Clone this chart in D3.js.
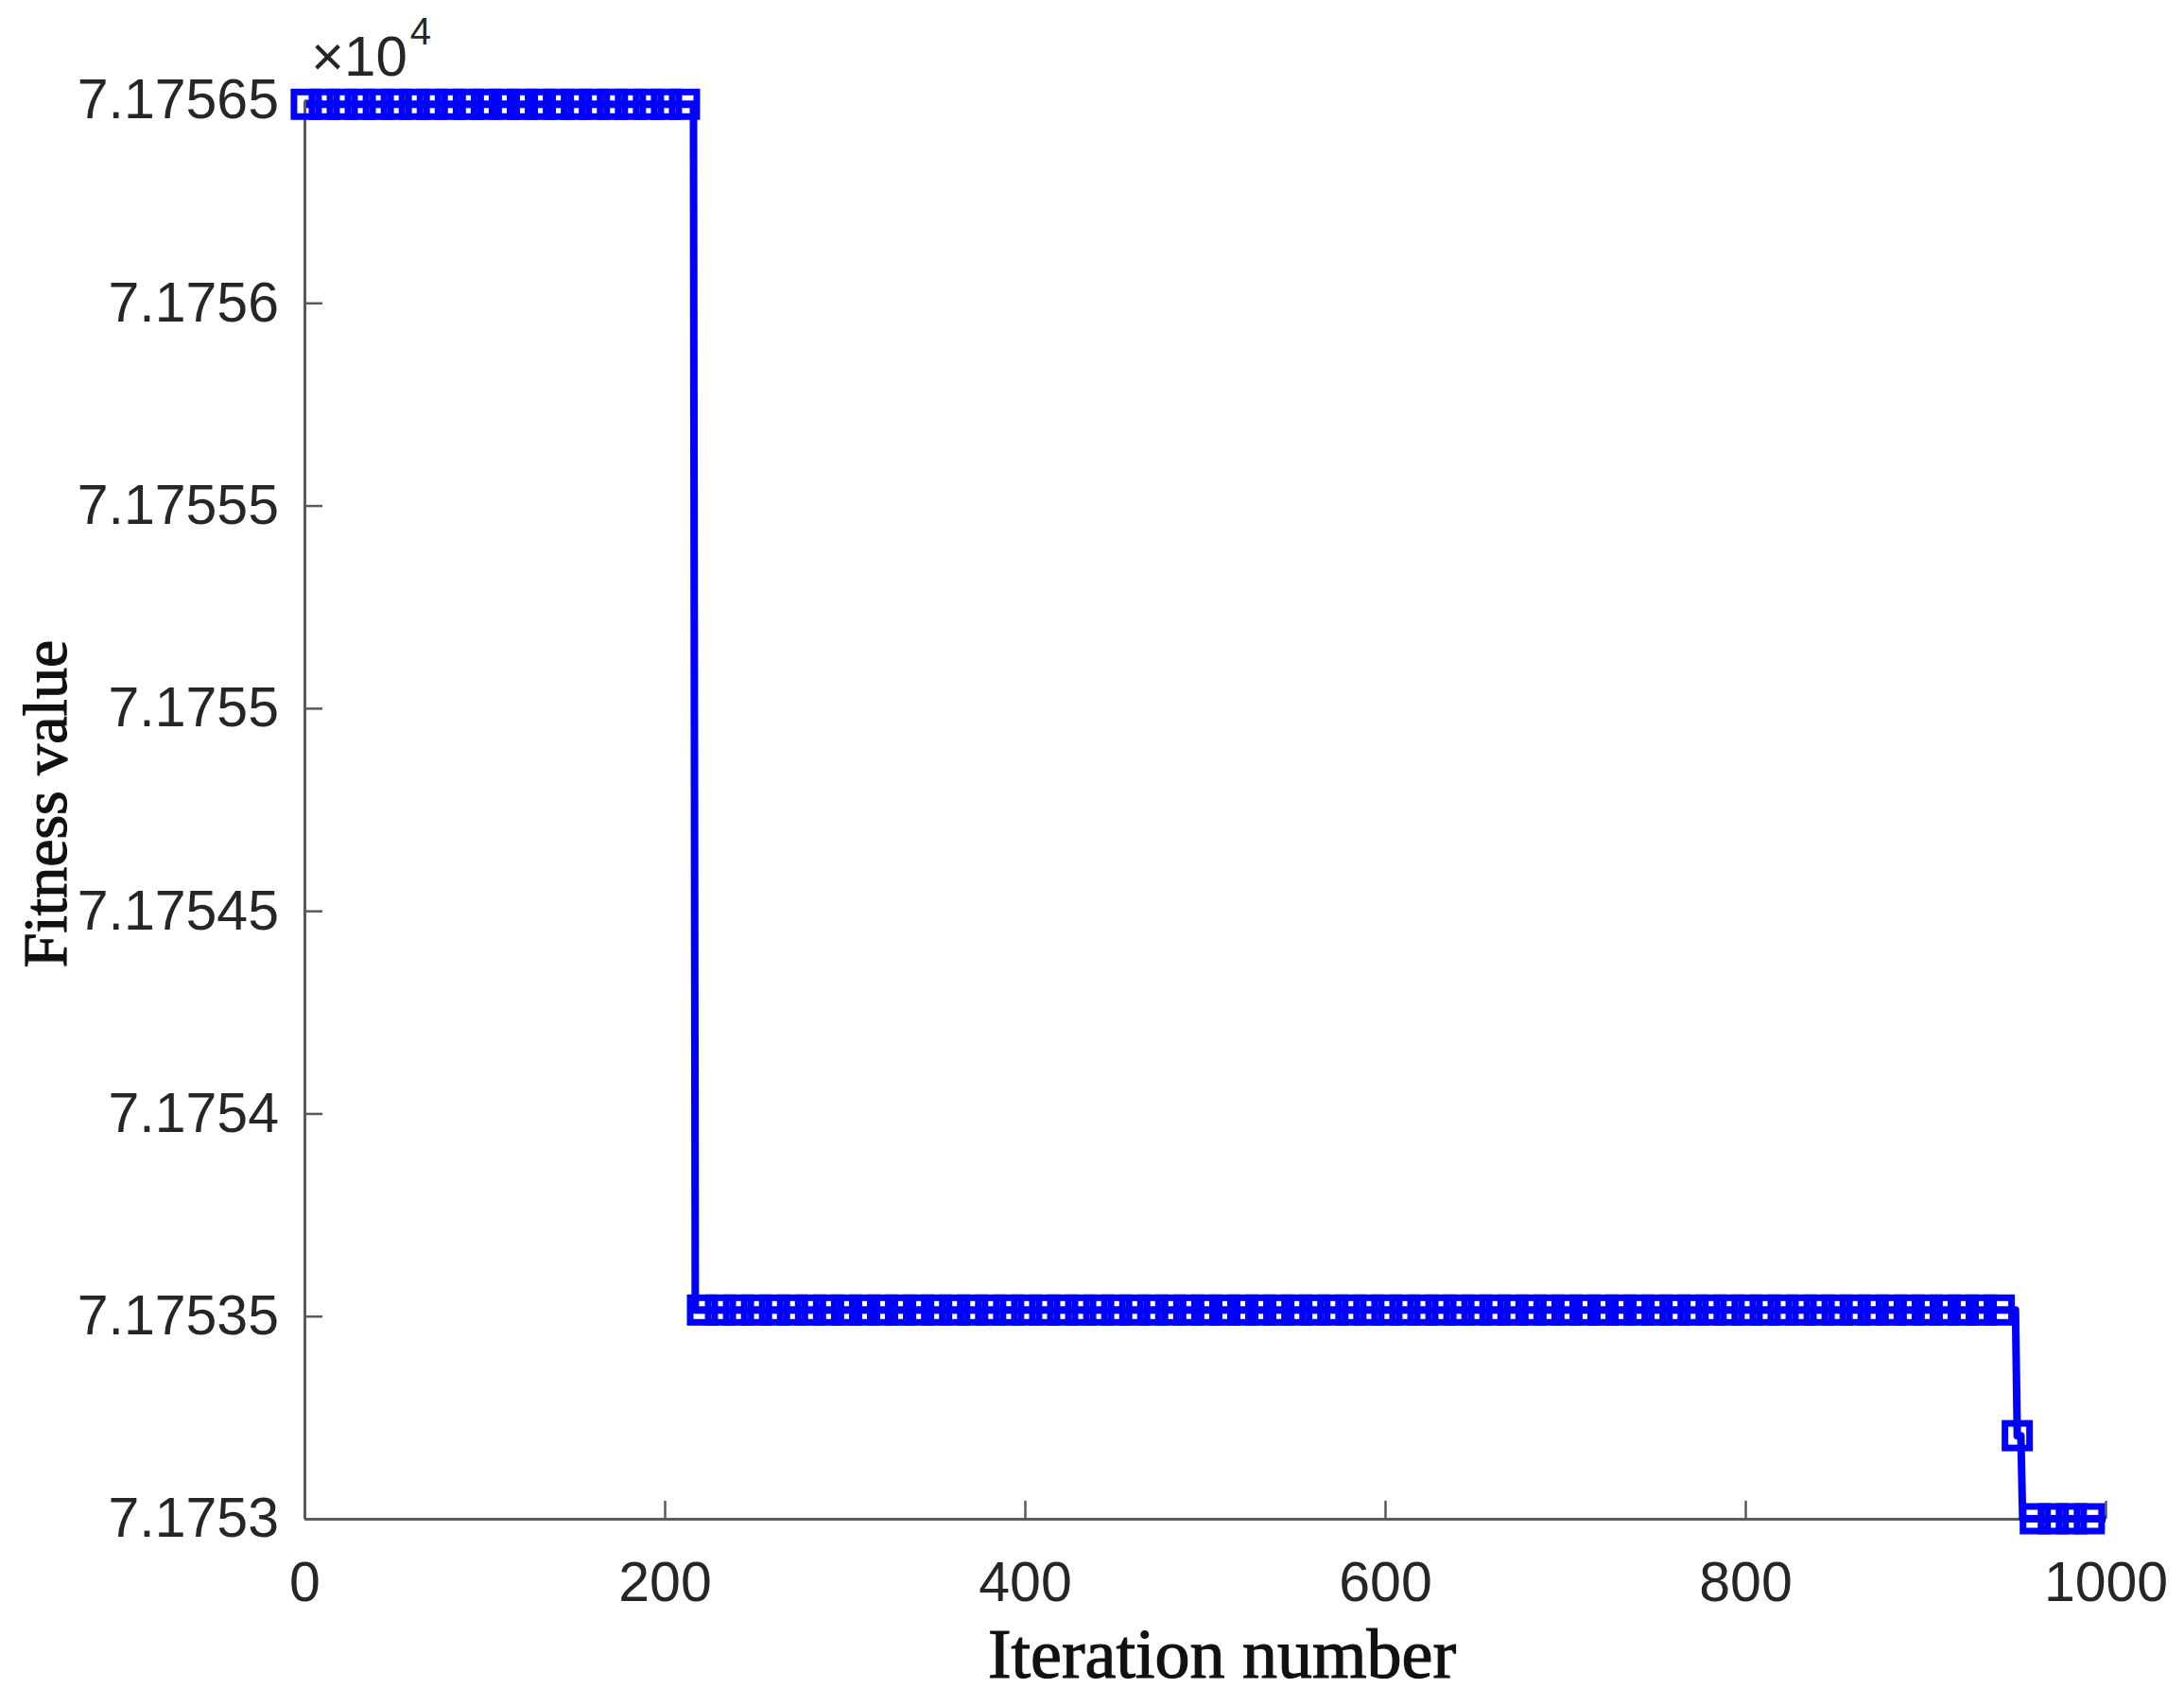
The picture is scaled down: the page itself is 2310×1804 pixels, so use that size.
<!DOCTYPE html>
<html>
<head>
<meta charset="utf-8">
<script src="https://cdn.jsdelivr.net/npm/d3@7"></script>
<style>
  body { margin: 0; background: #fff; }
</style>
</head>
<body>
<div id="chart"></div>
<script>
// step runs of the best fitness value
var runStart = [1, 217, 951, 954];
var runEnd   = [216, 950, 953, 1000];
var runValue = [71756.49, 71753.515, 71753.205, 71753.00];

// a square marker on every 10th iteration
var markerStep = 10;

var xTicks = [0, 200, 400, 600, 800, 1000];
var yTicks = [71753, 71753.5, 71754, 71754.5, 71755, 71755.5, 71756, 71756.5];
var yTickLabels = ["7.1753", "7.17535", "7.1754", "7.17545", "7.1755", "7.17555", "7.1756", "7.17565"];

// set the dimensions and margins of the graph
var margin = {top: 106, right: 83, bottom: 198, left: 322},
  width = 2310 - margin.left - margin.right,
  height = 1804 - margin.top - margin.bottom;

var svg = d3.select("#chart")
.append("svg")
  .attr("width", 2310)
  .attr("height", 1804)
  .style("background", "#fff")
.append("g")
  .attr("transform", "translate(" + margin.left + "," + margin.top + ")");

// expand the runs into one value per iteration
var data = [];
runStart.forEach(function(s, i) {
  for (var it = s; it <= runEnd[i]; it++) data.push({it: it, v: runValue[i]});
});

var x = d3.scaleLinear().domain([0, 1000]).range([0, width]);
var y = d3.scaleLinear().domain([71753, 71756.5]).range([height, 0]);

var axisColor = "#5a5a5a",
  labelColor = "#262626",
  tickLen = 19;

// x axis, ticks pointing inside
var gx = svg.append("g")
  .attr("transform", "translate(0," + height + ")")
  .call(d3.axisBottom(x).tickValues(xTicks).tickFormat(d3.format("d"))
    .tickSizeInner(-tickLen).tickSizeOuter(0).tickPadding(87));
gx.select(".domain").attr("stroke", axisColor).attr("stroke-width", 3);
gx.selectAll(".tick line").attr("stroke", axisColor).attr("stroke-width", 2.5);
gx.selectAll(".tick text")
  .attr("fill", labelColor)
  .style("font-family", "'Liberation Sans', Arial, sans-serif")
  .style("font-size", "59px")
  .attr("dy", "0");

// y axis
var gy = svg.append("g")
  .call(d3.axisLeft(y).tickValues(yTicks).tickSizeInner(-tickLen).tickSizeOuter(0)
    .tickPadding(27)
    .tickFormat(function(d, i) { return yTickLabels[i]; }));
gy.select(".domain").attr("stroke", axisColor).attr("stroke-width", 3);
gy.selectAll(".tick line").attr("stroke", axisColor).attr("stroke-width", 2.5);
gy.selectAll(".tick text")
  .attr("fill", labelColor)
  .style("font-family", "'Liberation Sans', Arial, sans-serif")
  .style("font-size", "59px");

// exponent note
var expo = svg.append("text")
  .attr("x", 7)
  .attr("y", -26)
  .attr("fill", labelColor)
  .style("font-family", "'Liberation Sans', Arial, sans-serif")
  .style("font-size", "60px")
  .text("\u00d710");
expo.append("tspan")
  .attr("dy", -33)
  .attr("dx", 3)
  .style("font-size", "40px")
  .text("4");

// the curve
var line = d3.line()
  .x(function(d) { return x(d.it); })
  .y(function(d) { return y(d.v); });

svg.append("path")
  .datum(data)
  .attr("fill", "none")
  .attr("stroke", "#0000ff")
  .attr("stroke-width", 8)
  .attr("stroke-linejoin", "round")
  .attr("d", line);

var mk = 26;
svg.selectAll(".mk")
  .data(data.filter(function(d) { return (d.it - 1) % markerStep === 0; }))
  .enter()
  .append("rect")
  .attr("class", "mk")
  .attr("x", function(d) { return x(d.it) - mk / 2; })
  .attr("y", function(d) { return y(d.v) - mk / 2; })
  .attr("width", mk)
  .attr("height", mk)
  .attr("fill", "none")
  .attr("stroke", "#0000ff")
  .attr("stroke-width", 7);

// axis titles
svg.append("text")
  .attr("x", width / 2 + 18)
  .attr("y", height + 168)
  .attr("text-anchor", "middle")
  .attr("fill", "#111")
  .attr("stroke", "#111")
  .attr("stroke-width", 1.2)
  .style("font-family", "'Liberation Serif', 'Times New Roman', serif")
  .style("font-size", "74px")
  .text("Iteration number");

svg.append("text")
  .attr("transform", "translate(" + (70 - margin.left) + "," + (850 - margin.top) + ") rotate(-90)")
  .attr("text-anchor", "middle")
  .attr("fill", "#111")
  .attr("stroke", "#111")
  .attr("stroke-width", 1.2)
  .style("font-family", "'Liberation Serif', 'Times New Roman', serif")
  .style("font-size", "66px")
  .text("Fitness value");
</script>
</body>
</html>
